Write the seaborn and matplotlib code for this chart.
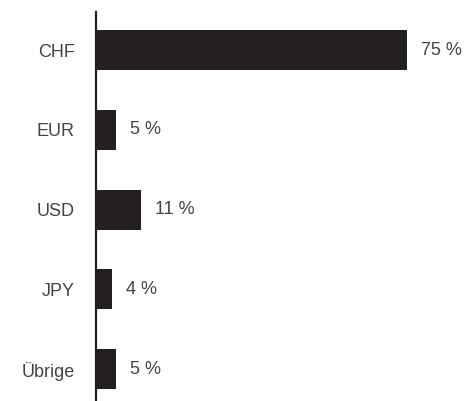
import seaborn as sns
import matplotlib.pyplot as plt
import pandas as pd

currencies = ['CHF', 'EUR', 'USD', 'JPY', 'Übrige']
shares = [75, 5, 11, 4, 5]
labels = ['75 %', '5 %', '11 %', '4 %', '5 %']

df = pd.DataFrame({'currency': currencies, 'share': shares})

sns.set_style('white')
plt.rcParams['font.family'] = ['Liberation Sans', 'DejaVu Sans']

fig = plt.figure(figsize=(4.71, 4.01), dpi=100)
ax = fig.add_axes([95.5 / 471, 0.0, 1 - 95.5 / 471, 1 - 12 / 401])

sns.barplot(data=df, x='share', y='currency', orient='h', color='#231f20',
            saturation=1, width=0.5, linewidth=0, ax=ax)
ax.bar_label(ax.containers[0], labels=labels, padding=10, fontsize=13,
             color='#444444')

ax.set_xlim(0, 90.3)
ax.set_ylim(4.40, -0.478)
ax.set_xlabel('')
ax.set_ylabel('')
ax.set_xticks([])
ax.tick_params(axis='y', length=0, pad=15, labelsize=13, labelcolor='#444444')
sns.despine(ax=ax, top=True, right=True, bottom=True, left=False)
ax.spines['left'].set_color('#231f20')
ax.spines['left'].set_linewidth(1.6)

fig.savefig('out.png', dpi=100)
